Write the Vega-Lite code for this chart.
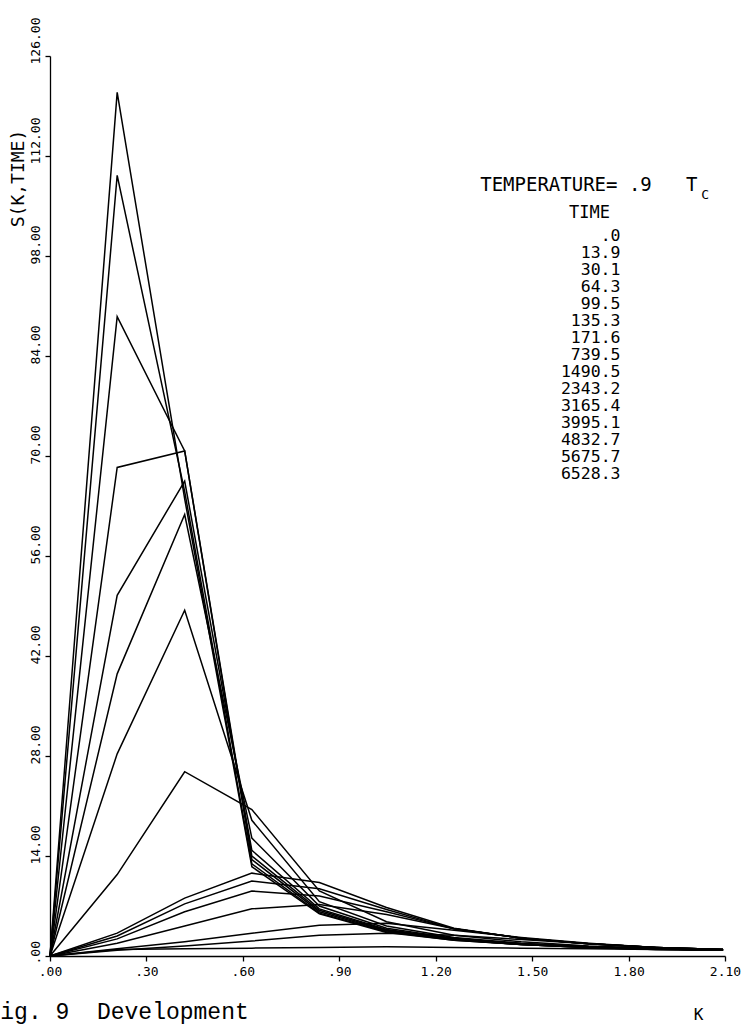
{
  "$schema": "https://vega.github.io/schema/vega-lite/v6.json",
  "width": 675,
  "height": 900,
  "autosize": {"type": "none"},
  "padding": {"left": 50, "top": 56, "right": 20, "bottom": 69},
  "background": "white",
  "config": {"view": {"stroke": null}},
  "title": {
    "text": "TEMPERATURE=\u00a0.9\u00a0\u00a0\u00a0T\u00a0\u200b",
    "subtitle": "C",
    "orient": "top",
    "anchor": "end",
    "frame": "group",
    "offset": 0,
    "dx": -16,
    "dy": 185,
    "font": "DejaVu Sans Mono",
    "fontSize": 19,
    "fontWeight": "normal",
    "color": "black",
    "subtitleFont": "DejaVu Sans Mono",
    "subtitleFontSize": 13,
    "subtitleColor": "black",
    "subtitlePadding": -6
  },
  "data": {
    "values": [
      {"t": ".0", "k": 0, "s": 0}, {"t": ".0", "k": 0.209, "s": 0.9}, {"t": ".0", "k": 0.419, "s": 1.0}, {"t": ".0", "k": 0.628, "s": 1.1}, {"t": ".0", "k": 0.838, "s": 1.2}, {"t": ".0", "k": 1.047, "s": 1.3}, {"t": ".0", "k": 1.257, "s": 1.2}, {"t": ".0", "k": 1.466, "s": 1.1}, {"t": ".0", "k": 1.676, "s": 1.0}, {"t": ".0", "k": 1.885, "s": 0.9}, {"t": ".0", "k": 2.094, "s": 0.8},
      {"t": "13.9", "k": 0, "s": 0}, {"t": "13.9", "k": 0.209, "s": 0.8}, {"t": "13.9", "k": 0.419, "s": 1.4}, {"t": "13.9", "k": 0.628, "s": 2.1}, {"t": "13.9", "k": 0.838, "s": 2.9}, {"t": "13.9", "k": 1.047, "s": 3.2}, {"t": "13.9", "k": 1.257, "s": 2.9}, {"t": "13.9", "k": 1.466, "s": 2.3}, {"t": "13.9", "k": 1.676, "s": 1.7}, {"t": "13.9", "k": 1.885, "s": 1.2}, {"t": "13.9", "k": 2.094, "s": 0.9},
      {"t": "30.1", "k": 0, "s": 0}, {"t": "30.1", "k": 0.209, "s": 1.0}, {"t": "30.1", "k": 0.419, "s": 2.0}, {"t": "30.1", "k": 0.628, "s": 3.2}, {"t": "30.1", "k": 0.838, "s": 4.3}, {"t": "30.1", "k": 1.047, "s": 4.6}, {"t": "30.1", "k": 1.257, "s": 3.6}, {"t": "30.1", "k": 1.466, "s": 2.6}, {"t": "30.1", "k": 1.676, "s": 1.8}, {"t": "30.1", "k": 1.885, "s": 1.2}, {"t": "30.1", "k": 2.094, "s": 0.9},
      {"t": "64.3", "k": 0, "s": 0}, {"t": "64.3", "k": 0.209, "s": 1.8}, {"t": "64.3", "k": 0.419, "s": 4.2}, {"t": "64.3", "k": 0.628, "s": 6.6}, {"t": "64.3", "k": 0.838, "s": 7.2}, {"t": "64.3", "k": 1.047, "s": 5.8}, {"t": "64.3", "k": 1.257, "s": 3.8}, {"t": "64.3", "k": 1.466, "s": 2.5}, {"t": "64.3", "k": 1.676, "s": 1.7}, {"t": "64.3", "k": 1.885, "s": 1.2}, {"t": "64.3", "k": 2.094, "s": 0.9},
      {"t": "99.5", "k": 0, "s": 0}, {"t": "99.5", "k": 0.209, "s": 2.4}, {"t": "99.5", "k": 0.419, "s": 6.2}, {"t": "99.5", "k": 0.628, "s": 9.1}, {"t": "99.5", "k": 0.838, "s": 8.4}, {"t": "99.5", "k": 1.047, "s": 6.2}, {"t": "99.5", "k": 1.257, "s": 3.8}, {"t": "99.5", "k": 1.466, "s": 2.5}, {"t": "99.5", "k": 1.676, "s": 1.7}, {"t": "99.5", "k": 1.885, "s": 1.2}, {"t": "99.5", "k": 2.094, "s": 0.9},
      {"t": "135.3", "k": 0, "s": 0}, {"t": "135.3", "k": 0.209, "s": 2.8}, {"t": "135.3", "k": 0.419, "s": 7.3}, {"t": "135.3", "k": 0.628, "s": 10.5}, {"t": "135.3", "k": 0.838, "s": 9.4}, {"t": "135.3", "k": 1.047, "s": 6.5}, {"t": "135.3", "k": 1.257, "s": 3.8}, {"t": "135.3", "k": 1.466, "s": 2.5}, {"t": "135.3", "k": 1.676, "s": 1.7}, {"t": "135.3", "k": 1.885, "s": 1.2}, {"t": "135.3", "k": 2.094, "s": 0.9},
      {"t": "171.6", "k": 0, "s": 0}, {"t": "171.6", "k": 0.209, "s": 3.2}, {"t": "171.6", "k": 0.419, "s": 8.1}, {"t": "171.6", "k": 0.628, "s": 11.6}, {"t": "171.6", "k": 0.838, "s": 10.3}, {"t": "171.6", "k": 1.047, "s": 6.8}, {"t": "171.6", "k": 1.257, "s": 3.9}, {"t": "171.6", "k": 1.466, "s": 2.5}, {"t": "171.6", "k": 1.676, "s": 1.7}, {"t": "171.6", "k": 1.885, "s": 1.2}, {"t": "171.6", "k": 2.094, "s": 0.9},
      {"t": "739.5", "k": 0, "s": 0}, {"t": "739.5", "k": 0.209, "s": 11.4}, {"t": "739.5", "k": 0.419, "s": 25.8}, {"t": "739.5", "k": 0.628, "s": 20.5}, {"t": "739.5", "k": 0.838, "s": 9.1}, {"t": "739.5", "k": 1.047, "s": 4.8}, {"t": "739.5", "k": 1.257, "s": 2.9}, {"t": "739.5", "k": 1.466, "s": 2.0}, {"t": "739.5", "k": 1.676, "s": 1.4}, {"t": "739.5", "k": 1.885, "s": 1.1}, {"t": "739.5", "k": 2.094, "s": 0.9},
      {"t": "1490.5", "k": 0, "s": 0}, {"t": "1490.5", "k": 0.209, "s": 28.3}, {"t": "1490.5", "k": 0.419, "s": 48.4}, {"t": "1490.5", "k": 0.628, "s": 19.0}, {"t": "1490.5", "k": 0.838, "s": 7.6}, {"t": "1490.5", "k": 1.047, "s": 4.2}, {"t": "1490.5", "k": 1.257, "s": 2.6}, {"t": "1490.5", "k": 1.466, "s": 1.8}, {"t": "1490.5", "k": 1.676, "s": 1.3}, {"t": "1490.5", "k": 1.885, "s": 1.0}, {"t": "1490.5", "k": 2.094, "s": 0.8},
      {"t": "2343.2", "k": 0, "s": 0}, {"t": "2343.2", "k": 0.209, "s": 39.5}, {"t": "2343.2", "k": 0.419, "s": 61.8}, {"t": "2343.2", "k": 0.628, "s": 16.5}, {"t": "2343.2", "k": 0.838, "s": 7.0}, {"t": "2343.2", "k": 1.047, "s": 3.9}, {"t": "2343.2", "k": 1.257, "s": 2.5}, {"t": "2343.2", "k": 1.466, "s": 1.7}, {"t": "2343.2", "k": 1.676, "s": 1.3}, {"t": "2343.2", "k": 1.885, "s": 1.0}, {"t": "2343.2", "k": 2.094, "s": 0.8},
      {"t": "3165.4", "k": 0, "s": 0}, {"t": "3165.4", "k": 0.209, "s": 50.5}, {"t": "3165.4", "k": 0.419, "s": 66.5}, {"t": "3165.4", "k": 0.628, "s": 14.8}, {"t": "3165.4", "k": 0.838, "s": 6.6}, {"t": "3165.4", "k": 1.047, "s": 3.7}, {"t": "3165.4", "k": 1.257, "s": 2.4}, {"t": "3165.4", "k": 1.466, "s": 1.7}, {"t": "3165.4", "k": 1.676, "s": 1.3}, {"t": "3165.4", "k": 1.885, "s": 1.0}, {"t": "3165.4", "k": 2.094, "s": 0.8},
      {"t": "3995.1", "k": 0, "s": 0}, {"t": "3995.1", "k": 0.209, "s": 68.4}, {"t": "3995.1", "k": 0.419, "s": 70.7}, {"t": "3995.1", "k": 0.628, "s": 14.0}, {"t": "3995.1", "k": 0.838, "s": 6.4}, {"t": "3995.1", "k": 1.047, "s": 3.6}, {"t": "3995.1", "k": 1.257, "s": 2.3}, {"t": "3995.1", "k": 1.466, "s": 1.6}, {"t": "3995.1", "k": 1.676, "s": 1.2}, {"t": "3995.1", "k": 1.885, "s": 1.0}, {"t": "3995.1", "k": 2.094, "s": 0.8},
      {"t": "4832.7", "k": 0, "s": 0}, {"t": "4832.7", "k": 0.209, "s": 89.5}, {"t": "4832.7", "k": 0.419, "s": 70.7}, {"t": "4832.7", "k": 0.628, "s": 13.5}, {"t": "4832.7", "k": 0.838, "s": 6.2}, {"t": "4832.7", "k": 1.047, "s": 3.5}, {"t": "4832.7", "k": 1.257, "s": 2.3}, {"t": "4832.7", "k": 1.466, "s": 1.6}, {"t": "4832.7", "k": 1.676, "s": 1.2}, {"t": "4832.7", "k": 1.885, "s": 1.0}, {"t": "4832.7", "k": 2.094, "s": 0.8},
      {"t": "5675.7", "k": 0, "s": 0}, {"t": "5675.7", "k": 0.209, "s": 109.3}, {"t": "5675.7", "k": 0.419, "s": 65.0}, {"t": "5675.7", "k": 0.628, "s": 12.9}, {"t": "5675.7", "k": 0.838, "s": 6.0}, {"t": "5675.7", "k": 1.047, "s": 3.4}, {"t": "5675.7", "k": 1.257, "s": 2.2}, {"t": "5675.7", "k": 1.466, "s": 1.6}, {"t": "5675.7", "k": 1.676, "s": 1.2}, {"t": "5675.7", "k": 1.885, "s": 0.9}, {"t": "5675.7", "k": 2.094, "s": 0.8},
      {"t": "6528.3", "k": 0, "s": 0}, {"t": "6528.3", "k": 0.209, "s": 120.9}, {"t": "6528.3", "k": 0.419, "s": 64.0}, {"t": "6528.3", "k": 0.628, "s": 12.5}, {"t": "6528.3", "k": 0.838, "s": 5.9}, {"t": "6528.3", "k": 1.047, "s": 3.3}, {"t": "6528.3", "k": 1.257, "s": 2.2}, {"t": "6528.3", "k": 1.466, "s": 1.6}, {"t": "6528.3", "k": 1.676, "s": 1.2}, {"t": "6528.3", "k": 1.885, "s": 0.9}, {"t": "6528.3", "k": 2.094, "s": 0.8}
    ]
  },
  "layer": [
    {
      "mark": {"type": "line", "strokeWidth": 1.5, "clip": false},
      "encoding": {
        "x": {
          "field": "k",
          "type": "quantitative",
          "scale": {"domain": [0, 2.1], "nice": false, "zero": false},
          "axis": {
            "values": [0, 0.3, 0.6, 0.9, 1.2, 1.5, 1.8, 2.1],
            "labelExpr": "datum.value < 1 ? substring(format(datum.value, '.2f'), 1) : format(datum.value, '.2f')",
            "grid": false,
            "labelFont": "DejaVu Sans Mono",
            "labelFontSize": 13,
            "labelColor": "black",
            "labelPadding": 4,
            "labelFlush": false,
            "labelOverlap": false,
            "labelBound": false,
            "domainColor": "black",
            "domainWidth": 1.3,
            "tickColor": "black",
            "tickWidth": 1.3,
            "tickSize": 5,
            "title": "K",
            "titleFont": "DejaVu Sans Mono",
            "titleFontSize": 16,
            "titleFontWeight": "normal",
            "titleColor": "black",
            "titleX": 648,
            "titleY": 58,
            "titleAlign": "center",
            "titleBaseline": "middle"
          }
        },
        "y": {
          "field": "s",
          "type": "quantitative",
          "scale": {"domain": [0, 126], "nice": false, "zero": false},
          "axis": {
            "orient": "left",
            "values": [0, 14, 28, 42, 56, 70, 84, 98, 112, 126],
            "labelExpr": "datum.value == 0 ? '.00' : format(datum.value, '.2f')",
            "grid": false,
            "labelAngle": 270,
            "labelAlign": "left",
            "labelBaseline": "bottom",
            "labelOffset": 8,
            "labelFont": "DejaVu Sans Mono",
            "labelFontSize": 13,
            "labelColor": "black",
            "labelPadding": 3,
            "labelFlush": false,
            "labelOverlap": false,
            "labelBound": false,
            "domainColor": "black",
            "domainWidth": 1.3,
            "tickColor": "black",
            "tickWidth": 1.3,
            "tickSize": 5,
            "title": "S(K,TIME)",
            "titleFont": "DejaVu Sans Mono",
            "titleFontSize": 18,
            "titleFontWeight": "normal",
            "titleColor": "black",
            "titleAngle": 270,
            "titleX": -32,
            "titleY": 122,
            "titleAlign": "center",
            "titleBaseline": "middle"
          }
        },
        "color": {
          "field": "t",
          "type": "nominal",
          "scale": {
            "domain": [".0", "13.9", "30.1", "64.3", "99.5", "135.3", "171.6", "739.5", "1490.5", "2343.2", "3165.4", "3995.1", "4832.7", "5675.7", "6528.3"],
            "range": ["black", "black", "black", "black", "black", "black", "black", "black", "black", "black", "black", "black", "black", "black", "black"]
          },
          "legend": {
            "orient": "none",
            "legendX": 519,
            "legendY": 149,
            "title": "TIME",
            "titleFont": "DejaVu Sans Mono",
            "titleFontSize": 17,
            "titleFontWeight": "normal",
            "titleColor": "black",
            "titleAnchor": "start",
            "titlePadding": 6,
            "labelFont": "DejaVu Sans Mono",
            "labelFontSize": 16.5,
            "labelColor": "black",
            "labelAlign": "right",
            "labelOffset": 35,
            "labelLimit": 200,
            "symbolSize": 0,
            "symbolOpacity": 0,
            "symbolStrokeWidth": 0,
            "rowPadding": 0,
            "padding": 0
          }
        }
      }
    },
    {
      "mark": {"type": "point", "opacity": 0},
      "encoding": {
        "x": {"field": "k", "type": "quantitative"},
        "y": {
          "field": "s",
          "type": "quantitative",
          "scale": {"domain": [0, 126], "nice": false, "zero": false},
          "axis": {
            "orient": "right",
            "labels": false,
            "ticks": false,
            "domain": false,
            "grid": false,
            "title": "Fig.\u00a09\u00a0\u00a0Development",
            "titleFont": "Liberation Mono",
            "titleFontSize": 23,
            "titleFontWeight": "normal",
            "titleColor": "black",
            "titleAngle": 0,
            "titleX": -739,
            "titleY": 962,
            "titleAlign": "left",
            "titleBaseline": "alphabetic"
          }
        }
      }
    }
  ],
  "resolve": {"scale": {"y": "independent"}}
}
